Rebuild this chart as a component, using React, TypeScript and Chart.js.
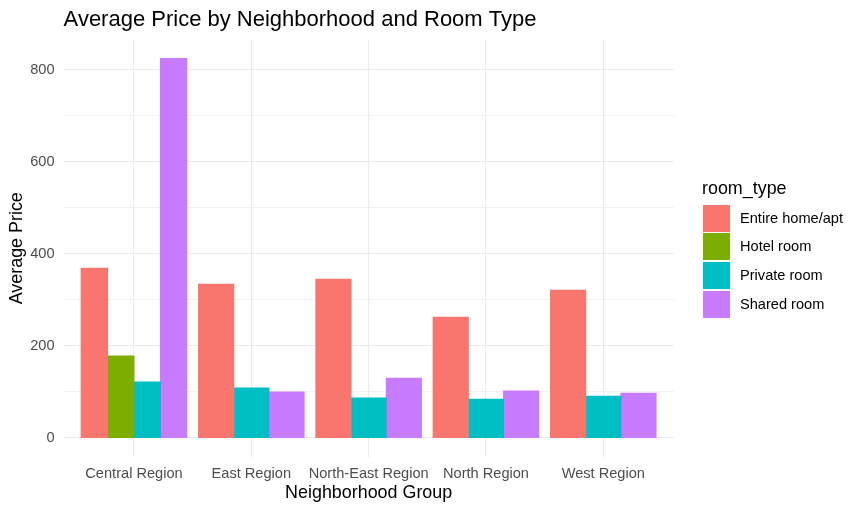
import { useEffect, useRef } from "react";
import { Chart, registerables } from "chart.js";

Chart.register(...registerables);

const chartTitle = "Average Price by Neighborhood and Room Type";
const xTitle = "Neighborhood Group";
const yTitle = "Average Price";
const legendTitle = "room_type";

const categories = ["Central Region", "East Region", "North-East Region", "North Region", "West Region"];
const roomTypes = ["Entire home/apt", "Hotel room", "Private room", "Shared room"];

const entireHome = [369, 334, 345, 262.5, 321];
const hotelRoom: (number | null)[] = [178, null, null, null, null];
const privateRoom = [121.5, 108.5, 87, 84.5, 91];
const sharedRoom = [824.5, 100, 130, 102, 97.5];

const yTicks = [0, 100, 200, 300, 400, 500, 600, 700, 800];
const yLabelStep = 200;

const colors = ["#F8766D", "#7CAE00", "#00BFC4", "#C77CFF"];

const FONT = '"Liberation Sans", Arial, sans-serif';

const seriesValues = [entireHome, hotelRoom, privateRoom, sharedRoom];

const legendPlugin = {
  id: "ggLegend",
  afterDraw(chart: any) {
    const ctx = chart.ctx;
    const x0 = Math.round(chart.chartArea.right + 29.3);
    ctx.save();
    ctx.textAlign = "left";
    ctx.fillStyle = "#000000";
    ctx.font = `17.9px ${FONT}`;
    ctx.textBaseline = "alphabetic";
    ctx.fillText(legendTitle, x0 - 1, 194);
    chart.data.datasets.forEach((ds: any, i: number) => {
      const top = Math.round(204.5 + i * 28.8);
      ctx.fillStyle = ds.backgroundColor;
      ctx.fillRect(x0, top, 27, 27);
      ctx.fillStyle = "#000000";
      ctx.font = `14.6px ${FONT}`;
      ctx.textBaseline = "middle";
      ctx.fillText(ds.label, x0 + 37, top + 14);
    });
    ctx.restore();
  },
};

export default function App() {
  const ref = useRef<HTMLCanvasElement | null>(null);

  useEffect(() => {
    if (!ref.current) return;
    const chart = new Chart(ref.current, {
      type: "bar",
      data: {
        datasets: roomTypes.map((rt, i) => ({
          label: rt,
          data: seriesValues[i].map((v, j) => ({ x: j, y: v })),
          backgroundColor: colors[i],
          borderWidth: 0,
          inflateAmount: 0.5,
          categoryPercentage: 0.9,
          barPercentage: 1,
          skipNull: true,
        })),
      } as any,
      options: {
        animation: false,
        responsive: true,
        maintainAspectRatio: false,
        layout: { padding: { left: 0, top: 0, right: 188.3, bottom: 0 } },
        plugins: {
          legend: { display: false },
          tooltip: { enabled: false },
          title: {
            display: true,
            text: chartTitle,
            align: "start",
            fullSize: false,
            color: "#000000",
            font: { family: FONT, size: 22, weight: "normal" },
            padding: { top: 6.7, bottom: 6.4 },
          },
        },
        scales: {
          x: {
            type: "linear",
            offset: false,
            min: -0.6,
            max: categories.length - 1 + 0.6,
            afterBuildTicks: (axis: any) => {
              axis.ticks = categories.map((_, i) => ({ value: i }));
            },
            afterFit: (axis: any) => {
              axis.height = 55;
            },
            ticks: {
              color: "#4D4D4D",
              font: { family: FONT, size: 14.6 },
              padding: 8.5,
              maxRotation: 0,
              autoSkip: false,
              callback: (v: any) => categories[Math.round(Number(v))] ?? "",
            },
            grid: { color: "#EBEBEB", lineWidth: 1.1, drawTicks: false, offset: false },
            border: { display: false },
            title: {
              display: true,
              text: xTitle,
              color: "#000000",
              font: { family: FONT, size: 17.9 },
              padding: { top: 0, bottom: 8 },
            },
          },
          y: {
            type: "linear",
            min: -41.2,
            max: 865.7,
            afterBuildTicks: (axis: any) => {
              axis.ticks = yTicks.map((v) => ({ value: v }));
            },
            afterFit: (axis: any) => {
              axis.width = 63.6;
            },
            ticks: {
              color: "#4D4D4D",
              font: { family: FONT, size: 14.6 },
              padding: 9,
              autoSkip: false,
              callback: (v: any) => (Number(v) % yLabelStep === 0 ? String(v) : ""),
            },
            grid: {
              drawTicks: false,
              color: (c: any) => (c.tick && c.tick.value % yLabelStep === 0 ? "#EBEBEB" : "#F1F1F1"),
              lineWidth: (c: any) => (c.tick && c.tick.value % yLabelStep === 0 ? 1.1 : 0.9),
            },
            border: { display: false },
            title: {
              display: true,
              text: yTitle,
              color: "#000000",
              font: { family: FONT, size: 17.9 },
              padding: { top: 6.5, bottom: 0 },
            },
          },
        },
      } as any,
      plugins: [legendPlugin],
    });
    return () => chart.destroy();
  }, []);

  return (
    <div style={{ position: "fixed", left: 0, top: 0, width: 862, height: 512, background: "#ffffff" }}>
      <canvas ref={ref} />
    </div>
  );
}
